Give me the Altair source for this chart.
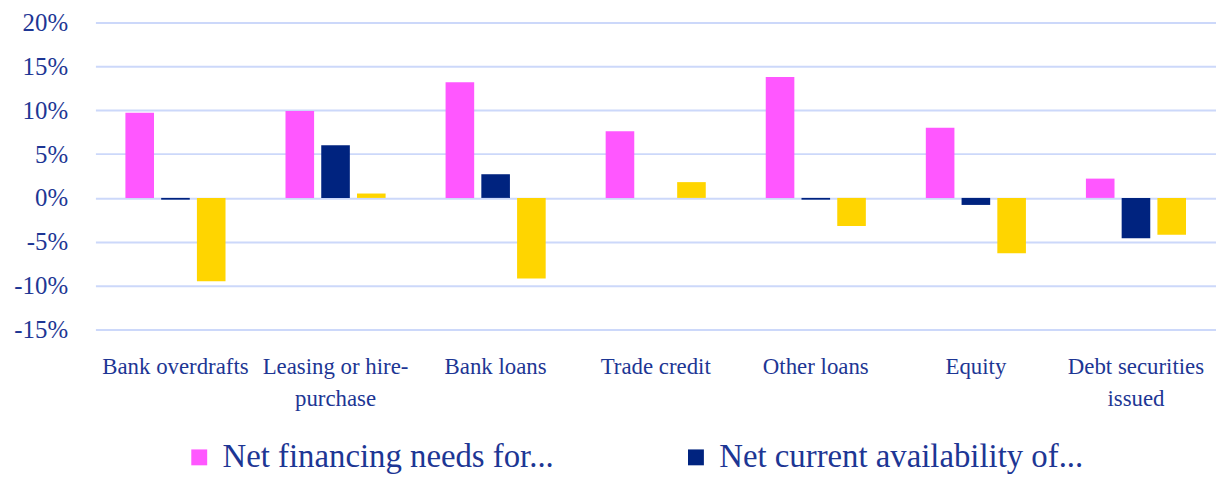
import altair as alt
import pandas as pd

categories = ["Bank overdrafts", "Leasing or hire-purchase", "Bank loans", "Trade credit",
              "Other loans", "Equity", "Debt securities issued"]
series = ["Net financing needs for...", "Net current availability of...", "Net expected availability of..."]
needs = [9.7, 9.9, 13.2, 7.6, 13.8, 8.0, 2.2]
current = [-0.2, 6.0, 2.7, 0.0, -0.2, -0.8, -4.6]
expected = [-9.5, 0.5, -9.2, 1.8, -3.2, -6.3, -4.2]
y_ticks = [-15, -10, -5, 0, 5, 10, 15, 20]
colors = ["#FF57FF", "#00237F", "#FFD500"]

rows = []
for vals, s in zip([needs, current, expected], series):
    for c, v in zip(categories, vals):
        rows.append({"category": c, "series": s, "value": v})
df = pd.DataFrame(rows)

FONT = "Liberation Serif"
TXT = "#1D3694"

label_expr = ("datum.label == 'Leasing or hire-purchase' ? ['Leasing or hire-', 'purchase'] : "
              "datum.label == 'Debt securities issued' ? ['Debt securities', 'issued'] : datum.label")

chart = alt.Chart(df).mark_bar().encode(
    x=alt.X("category:N", sort=categories, title=None,
            scale=alt.Scale(paddingInner=0.33, paddingOuter=0.165),
            axis=alt.Axis(labelAngle=0, domain=False, ticks=False, labelExpr=label_expr,
                          labelFont=FONT, labelFontSize=23, labelColor=TXT, labelPadding=26,
                          labelLineHeight=33, labelLimit=300)),
    xOffset=alt.XOffset("series:N", sort=series,
                        scale=alt.Scale(paddingInner=0.2, paddingOuter=0.1)),
    y=alt.Y("value:Q", title=None,
            scale=alt.Scale(domain=[-15, 20], nice=False),
            axis=alt.Axis(values=y_ticks,
                          labelExpr="round(datum.value) + '%'",
                          domain=False, ticks=False, grid=True, gridColor="#CCD8FA", gridWidth=2,
                          labelFont=FONT, labelFontSize=25, labelColor=TXT, labelPadding=28)),
    color=alt.Color("series:N", sort=series,
                    scale=alt.Scale(domain=series, range=colors),
                    legend=alt.Legend(title=None, orient="none", direction="horizontal",
                                      legendX=88, legendY=421,
                                      values=series[:2], symbolType="square", symbolSize=256,
                                      symbolStrokeWidth=0, labelFont=FONT, labelFontSize=33,
                                      labelColor=TXT, labelOffset=7, columnPadding=126,
                                      labelLimit=600, padding=0)),
).properties(
    width=1128, height=309,
    background="white",
    autosize=alt.AutoSizeParams(type="none"),
    padding={"left": 88, "top": 13, "right": 0, "bottom": 160},
).configure_view(stroke=None)

chart.save("out.html", embed_options={"renderer": "svg", "actions": False})
